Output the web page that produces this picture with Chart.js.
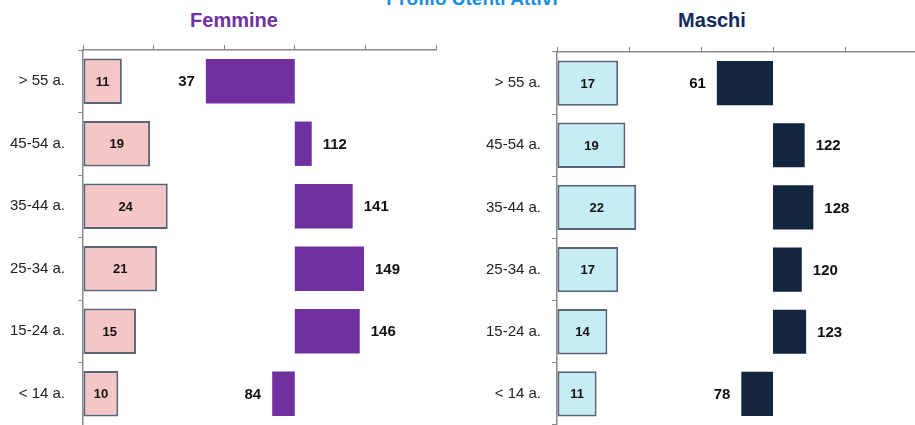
<!DOCTYPE html>
<html>
<head>
<meta charset="utf-8">
<script src="https://cdn.jsdelivr.net/npm/chart.js@4/dist/chart.umd.min.js"></script>
<style>
  body { margin: 0; width: 915px; height: 425px; overflow: hidden; position: relative; background: #fff;
         font-family: "Liberation Sans", Arial, sans-serif; }
  .title { position: absolute; font-weight: bold; white-space: nowrap; transform: translateX(-50%); line-height: 1; }
  canvas { position: absolute; top: 0; }
</style>
</head>
<body>
<div class="title" style="left:472px; top:-11px; font-size:19px; color:#1b8de0;">Profilo Utenti Attivi</div>
<div class="title" style="left:234px; top:10px; font-size:20px; color:#7030a0;">Femmine</div>
<div class="title" style="left:712px; top:10px; font-size:20px; color:#102a5e;">Maschi</div>
<canvas id="femmine" width="468" height="425" style="left:0px"></canvas>
<canvas id="maschi" width="462" height="425" style="left:457px"></canvas>
<script>
// age groups, top to bottom
const categories = ['> 55 a.', '45-54 a.', '35-44 a.', '25-34 a.', '15-24 a.', '< 14 a.'];

// share of users (%)
const femminePct = [11, 19, 24, 21, 15, 10];
const maschiPct = [17, 19, 22, 17, 14, 11];

// index vs average (base 100)
const femmineIndex = [37, 112, 141, 149, 146, 84];
const maschiIndex = [61, 122, 128, 120, 123, 78];
const indexBase = 100;

// draws the numbers on/next to the bars
const valueLabels = {
    id: 'valueLabels',
    afterDatasetsDraw(chart) {
        const ctx = chart.ctx;
        ctx.save();
        ctx.fillStyle = '#111';
        ctx.textBaseline = 'middle';

        // percentages, centered inside the light bars
        ctx.font = 'bold 13px "Liberation Sans", Arial, sans-serif';
        ctx.textAlign = 'center';
        chart.getDatasetMeta(0).data.forEach((bar, i) => {
            ctx.fillText(chart.data.datasets[0].raw[i], (bar.x + bar.base) / 2, bar.y + 1);
        });

        // index values, outside the bar end
        ctx.font = 'bold 15px "Liberation Sans", Arial, sans-serif';
        chart.getDatasetMeta(1).data.forEach((bar, i) => {
            let v = chart.data.datasets[1].raw[i];
            let left = Math.min(bar.x, bar.base);
            let right = Math.max(bar.x, bar.base);
            if (v < indexBase) {
                ctx.textAlign = 'right';
                ctx.fillText(v, left - 11, bar.y + 1);
            } else {
                ctx.textAlign = 'left';
                ctx.fillText(v, right + 11, bar.y + 1);
            }
        });
        ctx.restore();
    }
};

let makeChart = (id, pct, idx, pctColor, idxColor, yWidth, padTop, padRight, labelPad) => {
    let ctx = document.getElementById(id).getContext('2d');
    return new Chart(ctx, {
        type: 'bar',
        data: {
            labels: categories,
            datasets: [{
                data: pct,
                raw: pct,
                xAxisID: 'x',
                backgroundColor: pctColor,
                borderColor: '#5a6478',
                borderWidth: 2,
                borderSkipped: false,
                grouped: false,
                barPercentage: 0.73,
                categoryPercentage: 1,
            }, {
                data: idx.map(v => [indexBase, v]),
                raw: idx,
                xAxisID: 'x2',
                backgroundColor: idxColor,
                borderWidth: 0,
                grouped: false,
                barPercentage: 0.71,
                categoryPercentage: 1,
            }]
        },
        options: {
            indexAxis: 'y',
            responsive: false,
            animation: false,
            layout: { padding: { top: padTop, right: padRight, left: 0, bottom: 0 } },
            plugins: {
                legend: { display: false },
                tooltip: { enabled: false },
                title: { display: false },
            },
            scales: {
                x: {
                    position: 'top',
                    min: 0,
                    max: 100,
                    ticks: { display: false, stepSize: 20 },
                    grid: { drawOnChartArea: false, tickLength: 5, color: '#8a8a8a' },
                    border: { color: '#8a8a8a', width: 1.5 },
                },
                x2: {
                    display: false,
                    min: -50,
                    max: 200,
                },
                y: {
                    afterFit: (s) => {
                        s.width = yWidth;
                        s.paddingTop = 0;
                        s.paddingBottom = 0;
                    },
                    ticks: {
                        color: '#222',
                        padding: labelPad,
                        font: { size: 15, family: '"Liberation Sans", Arial, sans-serif' },
                    },
                    grid: { drawOnChartArea: false, tickLength: 5, color: '#8a8a8a' },
                    border: { color: '#8a8a8a', width: 1.5 },
                }
            }
        },
        plugins: [valueLabels]
    });
};

makeChart('femmine', femminePct, femmineIndex, '#f5c6c6', '#7030a0', 83, 45, 32, 13);
makeChart('maschi', maschiPct, maschiIndex, '#c6ecf6', '#13253f', 100, 47, 2, 11);
</script>
</body>
</html>
